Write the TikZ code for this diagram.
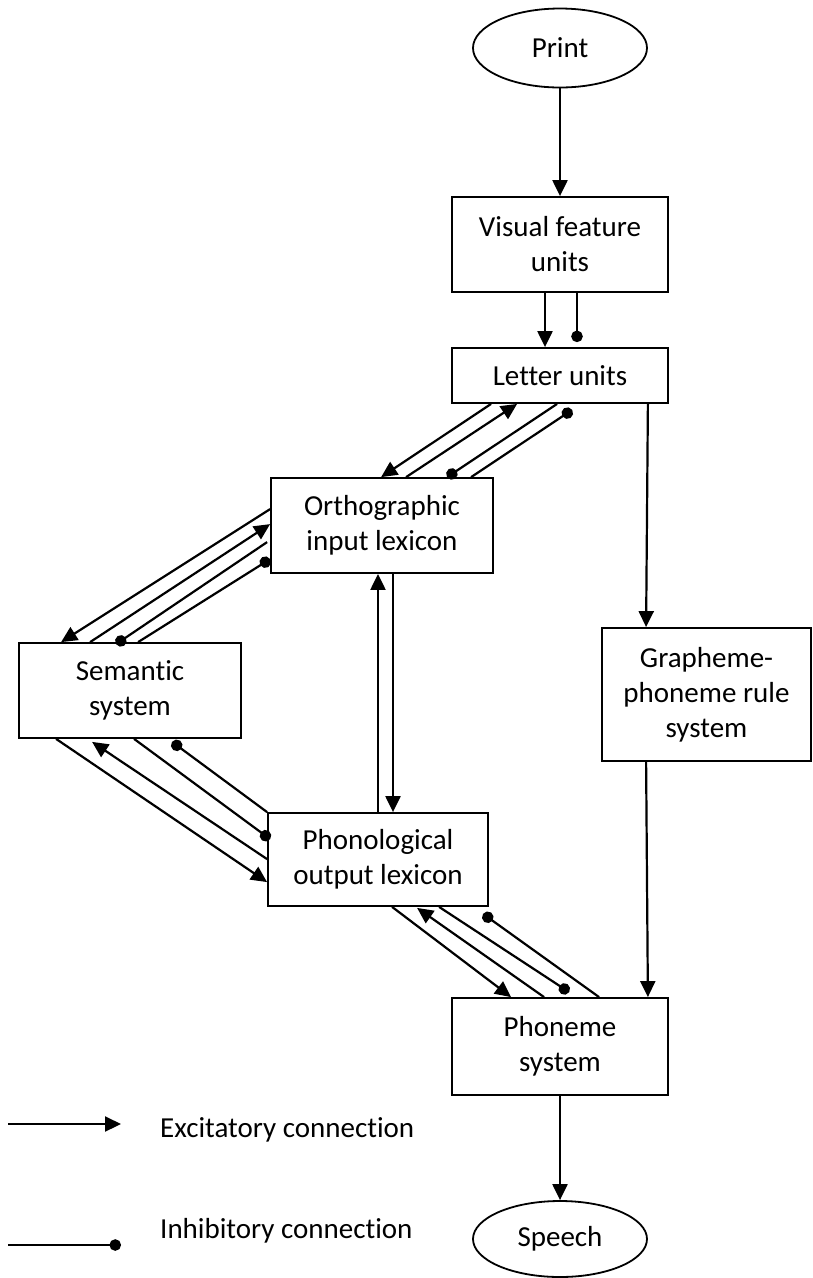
\documentclass[tikz,border=0pt]{standalone}
\usepackage{fontspec}
\setmainfont{Carlito}[Ligatures=NoCommon]
\newcommand{\tiX}{t\kern0pt i}
\usetikzlibrary{arrows.meta,calc,shapes.geometric}
\tikzset{
  box/.style={draw, line width=1.8pt, rectangle, align=center, inner sep=0pt, font=\fontsize{29}{35}\selectfont},
  oval/.style={draw, line width=1.8pt, ellipse, inner sep=0pt, font=\fontsize{29}{35}\selectfont},
  exc/.style={line width=2.2pt, -{Triangle[length=16pt,width=15pt]}},
  inh/.style={line width=2.2pt, -{Circle[length=11.5pt]}},
  lbl/.style={font=\fontsize{29}{35}\selectfont, inner sep=0pt}
}
\begin{document}
\begin{tikzpicture}[x=1pt,y=-1pt]
\useasboundingbox (0,0) rectangle (812,1278);
% nodes
\node[oval, minimum width=174pt, minimum height=79pt] (print) at (560,48) {Print};
\node[box, minimum width=216pt, minimum height=95pt] (visual) at (560,244.5) {Visual feature\\units};
\node[box, minimum width=216pt, minimum height=55pt] (letter) at (560,375.5) {Letter units};
\node[box, minimum width=222pt, minimum height=95pt] (ortho) at (382,525.5) {Orthographic\\input lexicon};
\node[box, minimum width=222pt, minimum height=95pt] (sem) at (130,690.5) {Seman\tiX c\\system};
\node[box, minimum width=220pt, minimum height=93pt] (phon) at (378,859.5) {Phonological\\output lexicon};
\node[box, minimum width=209pt, minimum height=133pt] (gpc) at (706.5,694.5) {Grapheme-\\phoneme rule\\system};
\node[box, minimum width=216pt, minimum height=97pt] (phoneme) at (560,1046.5) {Phoneme\\system};
\node[oval, minimum width=174pt, minimum height=76pt] (speech) at (560,1239) {Speech};

% vertical connectors
\draw[exc] (print.south) -- (visual.north);
\draw[exc] ($(visual.south)+(-15,0)$) -- ($(letter.north)+(-15,0)$);
\draw[inh] ($(visual.south)+(17,0)$) -- ($(letter.north)+(17,-5)$);
\draw[exc] ($(letter.south east)+(-21,0)$) -- ($(gpc.north west)+(45,0)$);
\draw[exc] ($(gpc.south west)+(45,0)$) -- ($(phoneme.north east)+(-21,0)$);
\draw[exc] (phoneme.south) -- (speech.north);
\draw[exc] (phon.north) -- ($(ortho.south)+(-4,0)$);
\draw[exc] ($(ortho.south)+(11,0)$) -- ($(phon.north)+(15,0)$);

% letter <-> ortho
\draw[exc] ($(letter.south west)+(40,0)$) -- ($(ortho.north west)+(111,0)$);
\draw[exc] ($(ortho.north west)+(136,0)$) -- ($(letter.south west)+(66,0)$);
\draw[inh] ($(letter.south west)+(106,0)$) -- ($(ortho.north west)+(177,0)$);
\draw[inh] ($(ortho.north west)+(201,0)$) -- ($(letter.south west)+(121,6)$);

% ortho <-> semantic
\draw[exc] ($(ortho.north west)+(0,32)$) -- ($(sem.north west)+(43,0)$);
\draw[exc] ($(sem.north west)+(72,0)$) -- ($(ortho.north west)+(0,47)$);
\draw[inh] ($(ortho.north west)+(-3,65)$) -- ($(sem.north west)+(98,2)$);
\draw[inh] ($(sem.north west)+(120,0)$) -- ($(ortho.north west)+(0,82)$);

% semantic <-> phon
\draw[exc] ($(sem.south west)+(38,0)$) -- ($(phon.north west)+(0,70)$);
\draw[exc] ($(phon.north west)+(0,47)$) -- ($(sem.south west)+(74,3)$);
\draw[inh] ($(sem.south west)+(116,0)$) -- ($(phon.north west)+(3,27)$);
\draw[inh] (phon.north west) -- ($(sem.south west)+(154,3)$);

% phon <-> phoneme
\draw[exc] ($(phon.south west)+(125,0)$) -- ($(phoneme.north west)+(60,0)$);
\draw[exc] ($(phoneme.north west)+(93,0)$) -- ($(phon.south west)+(150,1)$);
\draw[inh] ($(phon.south west)+(172,0)$) -- ($(phoneme.north west)+(118,-5)$);
\draw[inh] ($(phoneme.north west)+(148,0)$) -- ($(phon.south west)+(216,7)$);

% legend
\coordinate (e1) at (8,1124);
\coordinate (e2) at (121,1124);
\coordinate (i1) at (8,1245);
\coordinate (i2) at (121,1245);
\draw[exc] (e1) -- (e2);
\draw[inh] (i1) -- (i2);
\node[lbl, anchor=base west] (excl) at (160,1137) {Excitatory connec\tiX on};
\node[lbl, anchor=base west] (inhl) at (160,1238) {Inhibitory connec\tiX on};
\end{tikzpicture}
\end{document}
